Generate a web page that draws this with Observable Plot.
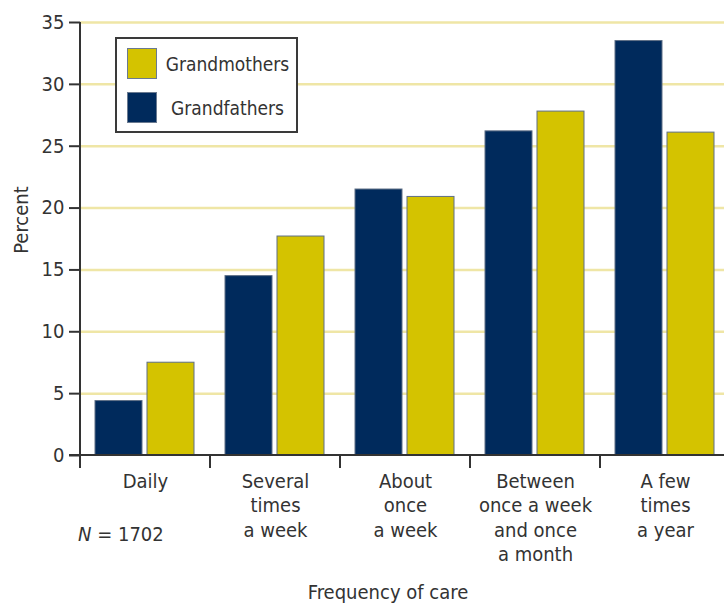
<!DOCTYPE html>
<html><head><meta charset="utf-8">
<script src="https://cdn.jsdelivr.net/npm/d3@7"></script>
<script src="https://cdn.jsdelivr.net/npm/@observablehq/plot@0.6"></script>
<style>
body{margin:0;background:#fff;}
#wrap{position:relative;width:724px;height:606px;overflow:hidden;font-family:"DejaVu Sans Condensed","DejaVu Sans",sans-serif;font-stretch:condensed;color:#333;font-size:20px;}
#wrap svg{position:absolute;left:0;top:0;}
.legend{position:absolute;left:115px;top:37px;width:179px;height:92px;border:2px solid #3a3a3a;background:#fff;font-size:19px;}
.legend .row{position:absolute;left:10px;height:32px;width:165px;}
.legend .sw{position:absolute;left:0;top:0;width:30px;height:31px;box-sizing:border-box;border:1px solid #6a7a90;}
.legend .lab{position:absolute;left:36px;right:0;top:0;line-height:32px;text-align:center;white-space:nowrap;}
.ytitle{position:absolute;left:21px;top:220px;transform:translate(-50%,-50%) rotate(-90deg);white-space:nowrap;}
.xtitle{position:absolute;left:388px;top:592px;transform:translate(-50%,-50%);white-space:nowrap;}
.note{position:absolute;left:78px;top:534px;transform:translateY(-50%);white-space:nowrap;}
</style></head><body><div id="wrap"></div>
<script>
const categories = ["Daily","Several times a week","About once a week","Between once a week and once a month","A few times a year"];
const categoryLabels = ["Daily","Several\ntimes\na week","About\nonce\na week","Between\nonce a week\nand once\na month","A few\ntimes\na year"];
const seriesNames = ["Grandfathers","Grandmothers"];
const grandfathers = [4.4,14.5,21.5,26.2,33.5];
const grandmothers = [7.5,17.7,20.9,27.8,26.1];
const yTicks = [0,5,10,15,20,25,30,35];
const seriesColors = ["#002a5c","#d4c300"];
const legendOrder = ["Grandmothers","Grandfathers"];
const yTitle = "Percent";
const xTitle = "Frequency of care";
const sampleSize = "1702";

const data = categories.flatMap((c,i)=>[
  {cat:c, series:seriesNames[0], value:grandfathers[i]},
  {cat:c, series:seriesNames[1], value:grandmothers[i]}
]);
const font = '"DejaVu Sans Condensed","DejaVu Sans",sans-serif';

const plot = Plot.plot({
  width:724, height:606,
  marginLeft:80, marginRight:-6, marginTop:22, marginBottom:151,
  style:{fontFamily:font, fontSize:"20px", color:"#333", background:"transparent", overflow:"visible", fontStretch:"condensed"},
  fx:{domain:categories, padding:0, axis:null},
  x:{domain:seriesNames, paddingInner:0.095, paddingOuter:0.286, axis:null},
  y:{domain:[0,35]},
  color:{domain:seriesNames, range:seriesColors},
  marks:[
    Plot.ruleY(yTicks.filter(d=>d>0), {stroke:"#efe6a6", strokeWidth:2.5}),
    Plot.barY(data,{fx:"cat", x:"series", y:"value", fill:"series", stroke:"#5e6f86", strokeWidth:1}),
    Plot.axisY({ticks:yTicks, tickSize:11, tickPadding:5, strokeWidth:2, stroke:"#333", label:null, fontSize:20, fill:"#333"}),
    Plot.text(categories,{fx:d=>d, text:d=>categoryLabels[categories.indexOf(d)], frameAnchor:"bottom", lineAnchor:"top", dy:15, lineHeight:1.22, fontSize:20, fill:"#333"})
  ]
});

const wrap = document.getElementById("wrap");
wrap.appendChild(plot);

// axis lines and category boundary ticks from the plot's own scales
const ys = plot.scale("y"), fxs = plot.scale("fx");
const y = d3.scaleLinear(ys.domain, ys.range);
const fx = d3.scaleBand(fxs.domain, fxs.range).paddingInner(0).paddingOuter(0);
const svg = d3.select(plot);
const g = svg.append("g").attr("stroke","#333").attr("stroke-width",2).attr("fill","none");
const x0 = fx.range()[0], y0 = y(0), tickLen = 13;
g.append("line").attr("x1",x0).attr("x2",x0).attr("y1",y(35)).attr("y2",y0+tickLen);
g.append("line").attr("x1",x0-11).attr("x2",fx.range()[1]).attr("y1",y0).attr("y2",y0);
categories.slice(1).forEach(c=>{
  g.append("line").attr("x1",fx(c)).attr("x2",fx(c)).attr("y1",y0).attr("y2",y0+tickLen);
});

// legend
const lg = document.createElement("div");
lg.className = "legend";
legendOrder.forEach((name,i)=>{
  const row = document.createElement("div");
  row.className = "row";
  row.style.top = (9 + i*44) + "px";
  const sw = document.createElement("div");
  sw.className = "sw";
  sw.style.background = seriesColors[seriesNames.indexOf(name)];
  const lab = document.createElement("div");
  lab.className = "lab";
  lab.textContent = name;
  row.appendChild(sw); row.appendChild(lab);
  lg.appendChild(row);
});
wrap.appendChild(lg);

const yt = document.createElement("div"); yt.className="ytitle"; yt.textContent=yTitle; wrap.appendChild(yt);
const xt = document.createElement("div"); xt.className="xtitle"; xt.textContent=xTitle; wrap.appendChild(xt);
const nt = document.createElement("div"); nt.className="note"; nt.innerHTML='<i>N</i> = '+sampleSize; wrap.appendChild(nt);
</script>
</body></html>
